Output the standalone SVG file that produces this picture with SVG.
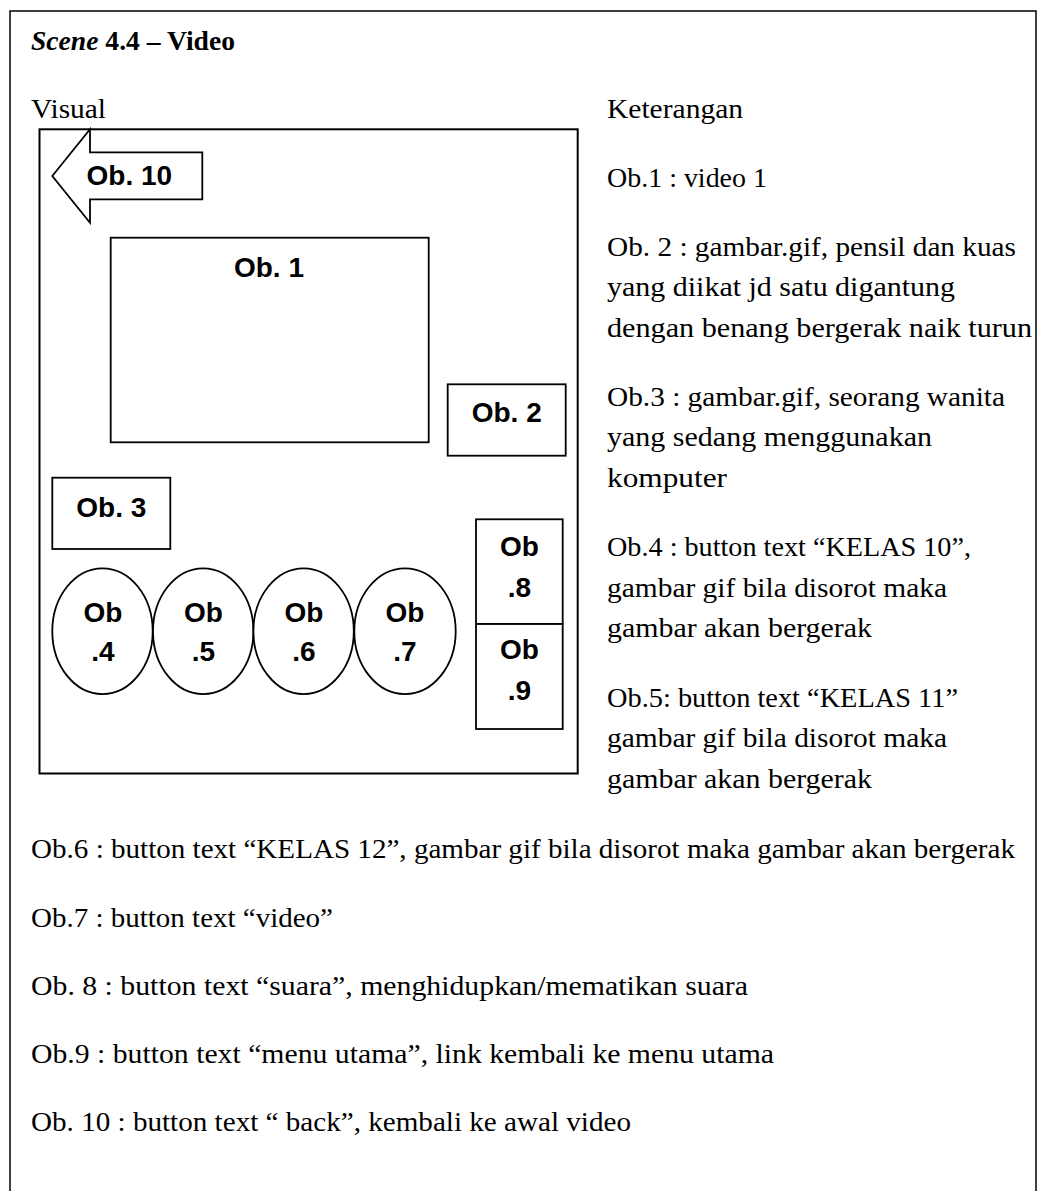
<svg xmlns="http://www.w3.org/2000/svg" width="1047" height="1191" viewBox="0 0 1047 1191">
<style>
.frame{fill:none;stroke:#000;stroke-width:1.5}
.shape{fill:#fff;stroke:#000;stroke-width:1.8}
.lbl{font-family:"Liberation Sans",Arial,sans-serif;font-weight:bold;font-size:28px;fill:#000;text-anchor:middle}
.txt{font-family:"Liberation Serif","Times New Roman",serif;font-size:27px;fill:#000}
.ttl{font-family:"Liberation Serif","Times New Roman",serif;font-size:27px;font-weight:bold;fill:#000}
</style>
<rect x="0" y="0" width="1047" height="1191" fill="#fff"/>
<path class="frame" d="M10,1191 V11 H1036 V1191"/>
<text class="ttl" x="31" y="50" textLength="204" lengthAdjust="spacingAndGlyphs"><tspan font-style="italic">Scene</tspan> 4.4 – Video</text>
<text class="txt" x="31" y="117.7" textLength="75" lengthAdjust="spacingAndGlyphs">Visual</text>
<g id="visual-area">
<rect class="frame" x="39.5" y="129.3" width="538.2" height="644.2" style="stroke-width:2"/>
</g>
<g id="ob10">
<polygon class="shape" points="52.3,176 90,129.3 90,152.3 202.3,152.3 202.3,199.3 90,199.3 90,222.7"/>
<text class="lbl" x="86.5" y="185" style="text-anchor:start">Ob. 10</text>
</g>
<g id="ob1">
<rect class="shape" x="110.7" y="237.7" width="318" height="204.6"/>
<text class="lbl" x="269" y="277.3">Ob. 1</text>
</g>
<g id="ob2">
<rect class="shape" x="447.7" y="384.3" width="118" height="71.4"/>
<text class="lbl" x="506.7" y="422.3">Ob. 2</text>
</g>
<g id="ob3">
<rect class="shape" x="52.3" y="477.7" width="118" height="71.3"/>
<text class="lbl" x="111.3" y="516.7">Ob. 3</text>
</g>
<g id="ob4">
<ellipse class="shape" cx="102.5" cy="631.2" rx="50.2" ry="62.9"/>
<text class="lbl" x="103" y="621.7">Ob</text>
<text class="lbl" x="103" y="660.7">.4</text>
</g>
<g id="ob5">
<ellipse class="shape" cx="203.2" cy="631.2" rx="50.2" ry="62.9"/>
<text class="lbl" x="203.5" y="621.7">Ob</text>
<text class="lbl" x="203.5" y="660.7">.5</text>
</g>
<g id="ob6">
<ellipse class="shape" cx="303.6" cy="631.2" rx="50.2" ry="62.9"/>
<text class="lbl" x="304" y="621.7">Ob</text>
<text class="lbl" x="304" y="660.7">.6</text>
</g>
<g id="ob7">
<ellipse class="shape" cx="405" cy="631.2" rx="50.7" ry="62.9"/>
<text class="lbl" x="405" y="621.7">Ob</text>
<text class="lbl" x="405" y="660.7">.7</text>
</g>
<g id="ob8">
<rect class="shape" x="476" y="519.3" width="86.7" height="104.7"/>
<text class="lbl" x="519.5" y="555.5">Ob</text>
<text class="lbl" x="519.5" y="596.7">.8</text>
</g>
<g id="ob9">
<rect class="shape" x="476" y="624" width="86.7" height="105"/>
<text class="lbl" x="519.5" y="659.3">Ob</text>
<text class="lbl" x="519.5" y="700">.9</text>
</g>
<g id="connectors"></g>
<g id="keterangan">
<text class="txt" x="607" y="117.5" textLength="136" lengthAdjust="spacingAndGlyphs">Keterangan</text>
<text class="txt" x="607" y="186.5" textLength="160" lengthAdjust="spacingAndGlyphs">Ob.1 : video 1</text>
<text class="txt" x="607" y="255.5" textLength="409" lengthAdjust="spacingAndGlyphs">Ob. 2 : gambar.gif, pensil dan kuas</text>
<text class="txt" x="607" y="296" textLength="348" lengthAdjust="spacingAndGlyphs">yang diikat jd satu digantung</text>
<text class="txt" x="607" y="336.5" textLength="425" lengthAdjust="spacingAndGlyphs">dengan benang bergerak naik turun</text>
<text class="txt" x="607" y="405.5" textLength="398" lengthAdjust="spacingAndGlyphs">Ob.3 : gambar.gif, seorang wanita</text>
<text class="txt" x="607" y="446" textLength="325" lengthAdjust="spacingAndGlyphs">yang sedang menggunakan</text>
<text class="txt" x="607" y="486.5" textLength="120" lengthAdjust="spacingAndGlyphs">komputer</text>
<text class="txt" x="607" y="556" textLength="364" lengthAdjust="spacingAndGlyphs">Ob.4 : button text “KELAS 10”,</text>
<text class="txt" x="607" y="596.5" textLength="340" lengthAdjust="spacingAndGlyphs">gambar gif bila disorot maka</text>
<text class="txt" x="607" y="637" textLength="265" lengthAdjust="spacingAndGlyphs">gambar akan bergerak</text>
<text class="txt" x="607" y="706.5" textLength="351" lengthAdjust="spacingAndGlyphs">Ob.5: button text “KELAS 11”</text>
<text class="txt" x="607" y="747" textLength="340" lengthAdjust="spacingAndGlyphs">gambar gif bila disorot maka</text>
<text class="txt" x="607" y="788" textLength="265" lengthAdjust="spacingAndGlyphs">gambar akan bergerak</text>
</g>
<g id="keterangan-bottom">
<text class="txt" x="31" y="858" textLength="984" lengthAdjust="spacingAndGlyphs">Ob.6 : button text “KELAS 12”, gambar gif bila disorot maka gambar akan bergerak</text>
<text class="txt" x="31" y="927" textLength="302" lengthAdjust="spacingAndGlyphs">Ob.7 : button text “video”</text>
<text class="txt" x="31" y="995" textLength="717" lengthAdjust="spacingAndGlyphs">Ob. 8 : button text “suara”, menghidupkan/mematikan suara</text>
<text class="txt" x="31" y="1063" textLength="743" lengthAdjust="spacingAndGlyphs">Ob.9 : button text “menu utama”, link kembali ke menu utama</text>
<text class="txt" x="31" y="1131" textLength="600" lengthAdjust="spacingAndGlyphs">Ob. 10 : button text “ back”, kembali ke awal video</text>
</g>
</svg>
